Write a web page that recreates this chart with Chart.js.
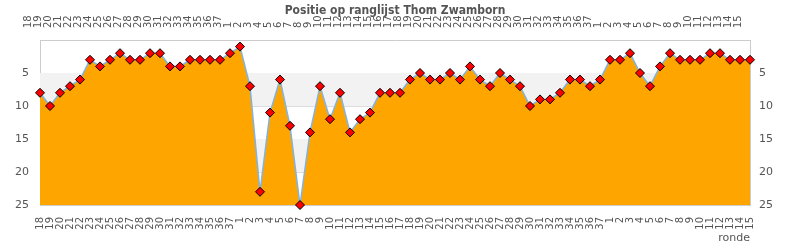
<!DOCTYPE html>
<html>
<head>
<meta charset="utf-8">
<script src="https://cdn.jsdelivr.net/npm/chart.js@4.4.1/dist/chart.umd.min.js"></script>
<style>
  html, body { margin: 0; padding: 0; background: #fff; }
  #wrap { width: 790px; height: 250px; }
</style>
</head>
<body>
<div id="wrap"><canvas id="rankChart"></canvas></div>
<script>
// rounds (two seasons and a bit)
const rondes = [
	"18","19","20","21","22","23","24","25","26","27","28","29","30","31","32","33","34","35","36","37",
	"1","2","3","4","5","6","7","8","9","10","11","12","13","14","15","16","17","18","19","20",
	"21","22","23","24","25","26","27","28","29","30","31","32","33","34","35","36","37",
	"1","2","3","4","5","6","7","8","9","10","11","12","13","14","15"
];
// position in ranking per round
const posities = [
	8, 10, 8, 7, 6, 3, 4, 3, 2, 3, 3, 2, 2, 4, 4, 3, 3, 3, 3, 2,
	1, 7, 23, 11, 6, 13, 25, 14, 7, 12, 8, 14, 12, 11, 8, 8, 8, 6, 5, 6,
	6, 5, 6, 4, 6, 7, 5, 6, 7, 10, 9, 9, 8, 6, 6, 7, 6,
	3, 3, 2, 5, 7, 4, 2, 3, 3, 3, 2, 2, 3, 3, 3
];
const yTicks = [5, 10, 15, 20, 25];
const bands = [[5, 10], [15, 20]];

const textColor = "#555";
const font = { family: "DejaVu Sans", size: 10 };

// grey bands behind the area
const bandPlugin = {
	id: "bands",
	beforeDatasetsDraw(chart) {
		const { ctx, chartArea, scales } = chart;
		ctx.save();
		ctx.fillStyle = "#f2f2f2";
		bands.forEach(b => {
			const y1 = scales.y.getPixelForValue(b[0]);
			const y2 = scales.y.getPixelForValue(b[1]);
			ctx.fillRect(chartArea.left, y1, chartArea.right - chartArea.left, y2 - y1);
		});
		ctx.restore();
	}
};

const yAxis = (pos, w) => ({
	position: pos,
	reverse: true,
	min: 0,
	max: 25,
	afterBuildTicks: (axis) => { axis.ticks = yTicks.map(v => ({ value: v })); },
	afterFit: (axis) => { axis.width = w; },
	ticks: { color: textColor, font: { family: "DejaVu Sans", size: 11 }, padding: pos === "left" ? 11 : 9 },
	grid: { display: pos === "left", color: "#dddddd", drawTicks: false },
	border: { display: true, color: "#cccccc" },
});

new Chart(document.getElementById("rankChart"), {
	type: "line",
	data: {
		labels: rondes,
		datasets: [
			{
				label: "positie",
				data: posities,
				fill: "start",
				backgroundColor: "#ffa500",
				borderColor: "#80b3e2",
				borderWidth: 1.5,
				tension: 0,
				pointStyle: "rectRot",
				pointRadius: 4.5,
				pointBackgroundColor: "#ff0000",
				pointBorderColor: "#000000",
				pointBorderWidth: 1,
				clip: false,
			},
		],
	},
	options: {
		responsive: true,
		maintainAspectRatio: false,
		animation: false,
		layout: { padding: 0 },
		plugins: {
			legend: { display: false },
			tooltip: { enabled: false },
			title: {
				display: true,
				text: "Positie op ranglijst Thom Zwamborn",
				color: textColor,
				font: { family: "'DejaVu Sans Condensed', 'Liberation Sans Narrow', 'DejaVu Sans'", size: 12, weight: "bold", lineHeight: 1.2 },
				padding: { top: 4, bottom: -18.4 },
			},
		},
		scales: {
			x: {
				position: "bottom",
				offset: false,
				afterFit: (axis) => { axis.height = 45; },
				ticks: { color: textColor, font: font, autoSkip: false, minRotation: 90, maxRotation: 90, padding: 12 },
				grid: { display: false, drawTicks: false },
				border: { display: true, color: "#cccccc" },
				title: { display: true, text: "ronde", align: "end", color: textColor, font: { family: "DejaVu Sans", size: 11, lineHeight: 1 }, padding: { top: 0, bottom: 6 } },
			},
			x2: {
				position: "top",
				labels: rondes,
				offset: false,
				afterFit: (axis) => { axis.height = 40; },
				ticks: { color: textColor, font: font, autoSkip: false, minRotation: 90, maxRotation: 90, padding: 12 },
				grid: { display: false, drawTicks: false },
				border: { display: true, color: "#cccccc" },
			},
			y: yAxis("left", 40),
			y2: yAxis("right", 40),
		},
	},
	plugins: [bandPlugin],
});
</script>
</body>
</html>
